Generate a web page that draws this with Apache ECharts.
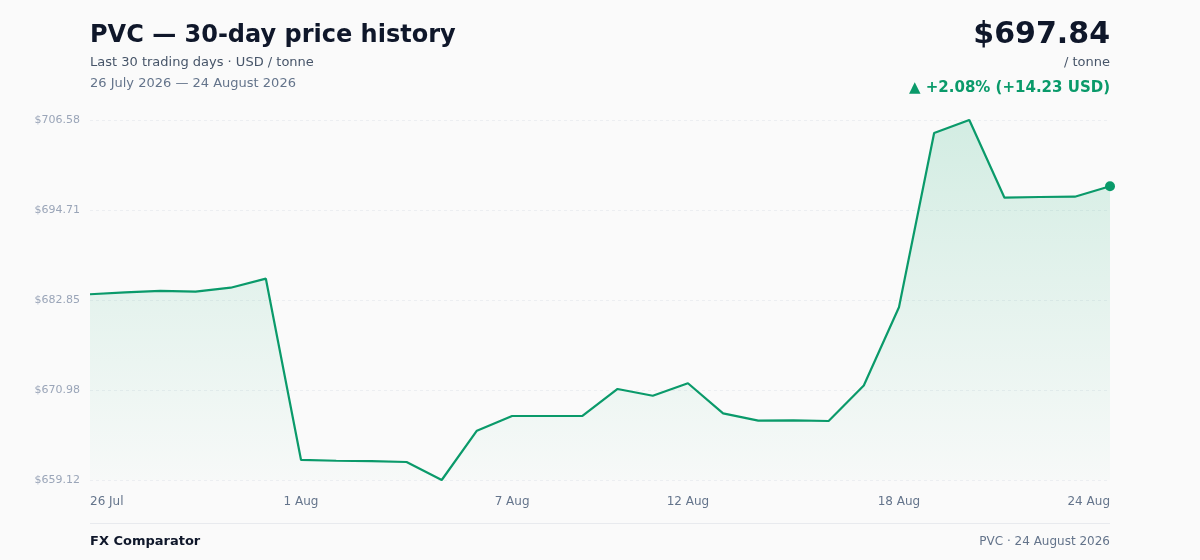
<!DOCTYPE html>
<html>
<head>
<meta charset="utf-8">
<script src="https://cdn.jsdelivr.net/npm/echarts@6/dist/echarts.min.js"></script>
<style>
  html, body { margin: 0; padding: 0; background: #fafafa; }
  #chart { width: 1200px; height: 560px; }
</style>
</head>
<body>
<div id="chart"></div>
<script>
  // 30 daily closes, 26 Jul – 24 Aug 2026
  const days = [
    '26 Jul', '27 Jul', '28 Jul', '29 Jul', '30 Jul', '31 Jul',
    '1 Aug', '2 Aug', '3 Aug', '4 Aug', '5 Aug', '6 Aug', '7 Aug', '8 Aug',
    '9 Aug', '10 Aug', '11 Aug', '12 Aug', '13 Aug', '14 Aug', '15 Aug',
    '16 Aug', '17 Aug', '18 Aug', '19 Aug', '20 Aug', '21 Aug', '22 Aug',
    '23 Aug', '24 Aug',
  ];
  const prices = [
    683.61, 683.86, 684.04, 683.95, 684.47, 685.66,
    661.76, 661.66, 661.62, 661.49, 659.12, 665.62, 667.56, 667.56,
    667.56, 671.12, 670.23, 671.87, 667.91, 666.94, 666.99,
    666.90, 671.58, 681.89, 704.87, 706.58, 696.34, 696.43,
    696.47, 697.84,
  ];
  const shownDays = ['26 Jul', '1 Aug', '7 Aug', '12 Aug', '18 Aug', '24 Aug'];
  const yTicks = [659.12, 670.98, 682.85, 694.71, 706.58];

  const GREEN = '#0a9a6a';
  const last = prices.length - 1;

  const chart = echarts.init(document.getElementById('chart'));
  chart.setOption({
    backgroundColor: '#fafafa',
    textStyle: { fontFamily: 'DejaVu Sans' },
    grid: { left: 90, right: 90, top: 120, bottom: 80 },
    title: [
      {
        text: 'PVC — 30-day price history',
        left: 90, top: 24, padding: 0,
        textStyle: { fontSize: 24, fontWeight: 'bold', color: '#0f172a' },
      },
      {
        text: 'Last 30 trading days · USD / tonne',
        left: 90, top: 56, padding: 0,
        textStyle: { fontSize: 13, fontWeight: 'normal', color: '#475569' },
      },
      {
        text: '26 July 2026 — 24 August 2026',
        left: 90, top: 77, padding: 0,
        textStyle: { fontSize: 13, fontWeight: 'normal', color: '#64748b' },
      },
      {
        text: '$697.84',
        right: 90, top: 20, padding: 0,
        textStyle: { fontSize: 30, fontWeight: 'bold', color: '#0f172a' },
      },
      {
        text: '/ tonne',
        right: 90, top: 56, padding: 0,
        textStyle: { fontSize: 13, fontWeight: 'normal', color: '#475569' },
      },
      {
        text: '▲ +2.08% (+14.23 USD)',
        right: 90, top: 81, padding: 0,
        textStyle: { fontSize: 15, fontWeight: 'bold', color: GREEN },
      },
      {
        text: 'FX Comparator',
        left: 90, top: 535, padding: 0,
        textStyle: { fontSize: 13, fontWeight: 'bold', color: '#0f172a' },
      },
      {
        text: 'PVC · 24 August 2026',
        right: 90, top: 536, padding: 0,
        textStyle: { fontSize: 12, fontWeight: 'normal', color: '#64748b' },
      },
    ],
    graphic: [{
      type: 'rect',
      shape: { x: 90, y: 523, width: 1020, height: 1 },
      style: { fill: '#e8eaee' },
    }],
    xAxis: {
      type: 'category',
      data: days,
      boundaryGap: false,
      axisLine: { show: false },
      axisTick: { show: false },
      axisLabel: {
        interval: (i, v) => shownDays.includes(v),
        color: '#64748b',
        fontSize: 12,
        margin: 16,
        alignMinLabel: 'left',
        alignMaxLabel: 'right',
      },
    },
    yAxis: {
      type: 'value',
      min: yTicks[0],
      max: yTicks[yTicks.length - 1],
      axisLine: { show: false },
      axisTick: { show: false, customValues: yTicks },
      axisLabel: {
        customValues: yTicks,
        color: '#9aa5b8',
        fontSize: 11,
        margin: 10,
        formatter: v => '$' + v.toFixed(2),
      },
      splitLine: { lineStyle: { color: '#eceef1', type: [3, 3] } },
    },
    series: [{
      type: 'line',
      data: prices,
      showSymbol: true,
      symbol: (v, p) => p.dataIndex === last ? 'circle' : 'none',
      symbolSize: 10,
      itemStyle: { color: GREEN },
      lineStyle: { color: GREEN, width: 2.2 },
      areaStyle: {
        color: new echarts.graphic.LinearGradient(0, 0, 0, 1, [
          { offset: 0, color: 'rgba(16,170,110,0.24)' },
          { offset: 1, color: 'rgba(16,170,110,0.02)' },
        ]),
      },
      emphasis: { disabled: true },
      animation: false,
    }],
  });
</script>
</body>
</html>
